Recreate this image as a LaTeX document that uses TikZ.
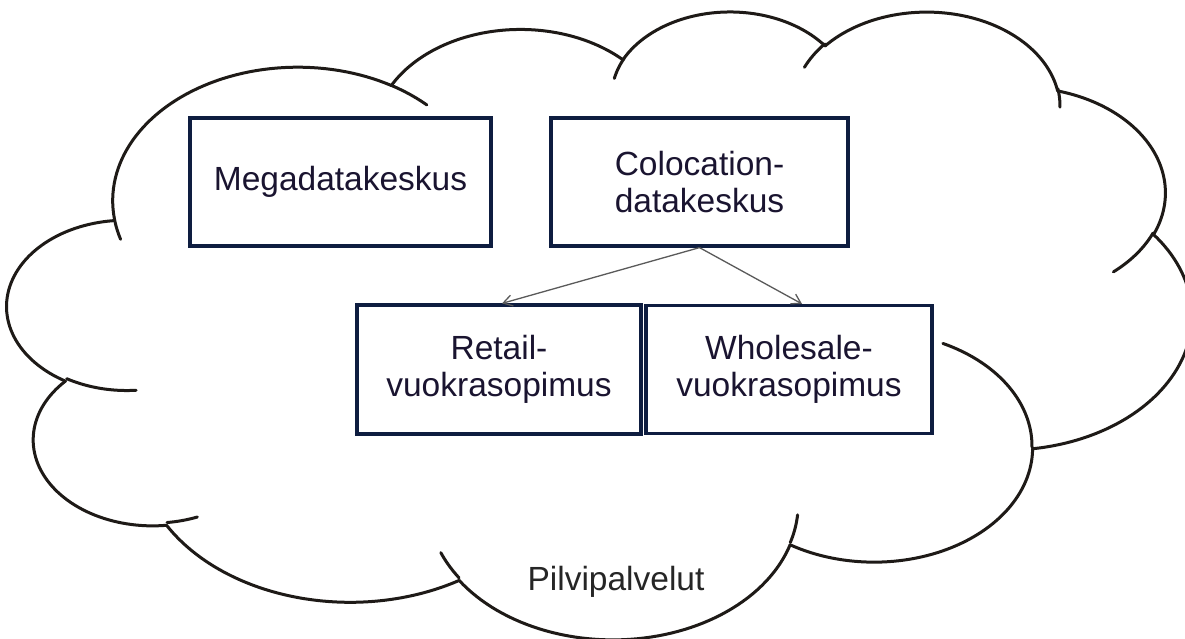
\documentclass[tikz,border=0pt]{standalone}
\usepackage{fontspec}
\setmainfont{Liberation Sans}
\usetikzlibrary{arrows.meta}

\definecolor{cloudink}{HTML}{1E1A17}
\definecolor{boxline}{HTML}{0E1D40}
\definecolor{boxtext}{HTML}{1A1430}
\definecolor{arrowgray}{HTML}{5A5A5A}
\definecolor{labelgray}{HTML}{262626}

\newcommand\boxfont{\fontsize{33.5}{37.5}\selectfont}

% Cloud outline built from elliptical arcTo segments on a 432 x 432 grid.
% \clox,\cloy: offset; \clsx,\clsy: grid-to-point scale.
\def\clox{7.5}
\def\cloy{9.9}
\def\clsx{2.7407}
\def\clsy{1.453}
\newcommand\cloudmove[2]{\def\clpx{#1}\def\clpy{#2}}
% #1,#2: radii, #3: start angle, #4: sweep (visual angles, y downwards)
\newcommand\cloudarc[4]{%
  \pgfmathsetmacro\clta{atan2((#1)*sin(#3),(#2)*cos(#3))}%
  \pgfmathsetmacro\cltb{atan2((#1)*sin((#3)+(#4)),(#2)*cos((#3)+(#4)))}%
  \pgfmathsetmacro\cltb{\clta+mod(\cltb-\clta+720,360)}%
  \pgfmathsetmacro\clcx{\clpx-(#1)*cos(\clta)}%
  \pgfmathsetmacro\clcy{\clpy-(#2)*sin(\clta)}%
  \draw[cloudstroke] plot[domain=\clta:\cltb,samples=60,variable=\ang]
    ({\clox+\clsx*(\clcx+(#1)*cos(\ang))},{\cloy+\clsy*(\clcy+(#2)*sin(\ang))});
  \pgfmathsetmacro\clpx{\clcx+(#1)*cos(\cltb)}%
  \pgfmathsetmacro\clpy{\clcy+(#2)*sin(\cltb)}%
}

\begin{document}
\begin{tikzpicture}[x=1pt,y=-1pt,
  cloudstroke/.style={draw=cloudink,line width=3pt,line cap=round,line join=round},
  box/.style={draw=boxline,line width=3.2pt,fill=white,inner sep=0pt,align=center,
    text=boxtext,font=\boxfont},
  conn/.style={draw=arrowgray,line width=1.3pt,-{Straight Barb[length=9pt,width=11pt]}}]

\path[use as bounding box,fill=white] (0,0) rectangle (1185,638);

% outer outline of the cloud
\cloudmove{39.00}{143.70}
\cloudarc{67.53}{91.90}{-190.48748}{123.78053}
\cloudarc{53.33}{72.67}{-144.10238}{89.94523}
\cloudarc{43.65}{59.45}{-145.80792}{99.72302}
\cloudarc{48.57}{65.95}{-130.98607}{117.24173}
\cloudarc{53.33}{72.73}{-78.70888}{109.02692}
\cloudarc{67.75}{92.20}{-46.26725}{130.269}
\cloudarc{57.85}{78.67}{0.62502}{114.03333}
\cloudarc{67.52}{92.15}{22.4516}{115.17255}
\cloudarc{77.20}{105.43}{66.24263}{75.71102}
\cloudarc{43.60}{59.18}{-274.94208}{146.73557}
\cloudarc{43.45}{59.45}{-246.8285}{152.51885}

% inner arcs of the cloud
\cloudmove{46.93}{261.77}\cloudarc{43.45}{59.45}{86.742}{26.4295}
\cloudmove{69.28}{348.99}\cloudarc{43.60}{59.18}{73.61047}{11.44747}
\cloudmove{164.78}{390.90}\cloudarc{67.52}{92.15}{137.62415}{14.0811}
\cloudmove{288.27}{347.51}\cloudarc{67.52}{92.15}{6.45327}{15.99835}
\cloudmove{341.29}{229.54}\cloudarc{57.85}{78.67}{-70.29235}{70.91737}
\cloudmove{417.98}{153.54}\cloudarc{53.33}{72.73}{30.31803}{27.7515}
\cloudmove{383.24}{54.26}\cloudarc{48.57}{65.95}{-13.74433}{14.8589}
\cloudmove{290.78}{39.52}\cloudarc{48.57}{65.95}{-149.18145}{18.19537}
\cloudmove{221.41}{47.20}\cloudarc{43.65}{59.45}{-163.49427}{17.68635}
\cloudmove{140.00}{51.92}\cloudarc{67.53}{91.90}{-66.70695}{12.31935}
\cloudmove{41.27}{157.89}\cloudarc{67.53}{91.90}{157.65435}{11.85817}

% boxes
\node[box,minimum width=301pt,minimum height=128pt] (mega) at (340.5,182) {Megadatakeskus};
\node[box,minimum width=297pt,minimum height=128pt] (colo) at (699.5,182) {Colocation-\\datakeskus};
\node[box,minimum width=284pt,minimum height=129pt] (retail) at (499,369.5) {Retail-\\vuokrasopimus};
\node[box,minimum width=286pt,minimum height=128pt] (whole) at (789,369.5) {Wholesale-\\vuokrasopimus};

% connectors
\draw[conn] (colo.south) -- ([xshift=3pt]retail.north);
\draw[conn] (colo.south) -- ([xshift=13pt]whole.north);

% cloud caption
\node[font=\boxfont,text=labelgray,anchor=base,inner sep=0pt] (caption) at (616,590) {Pilvipalvelut};
\end{tikzpicture}
\end{document}
